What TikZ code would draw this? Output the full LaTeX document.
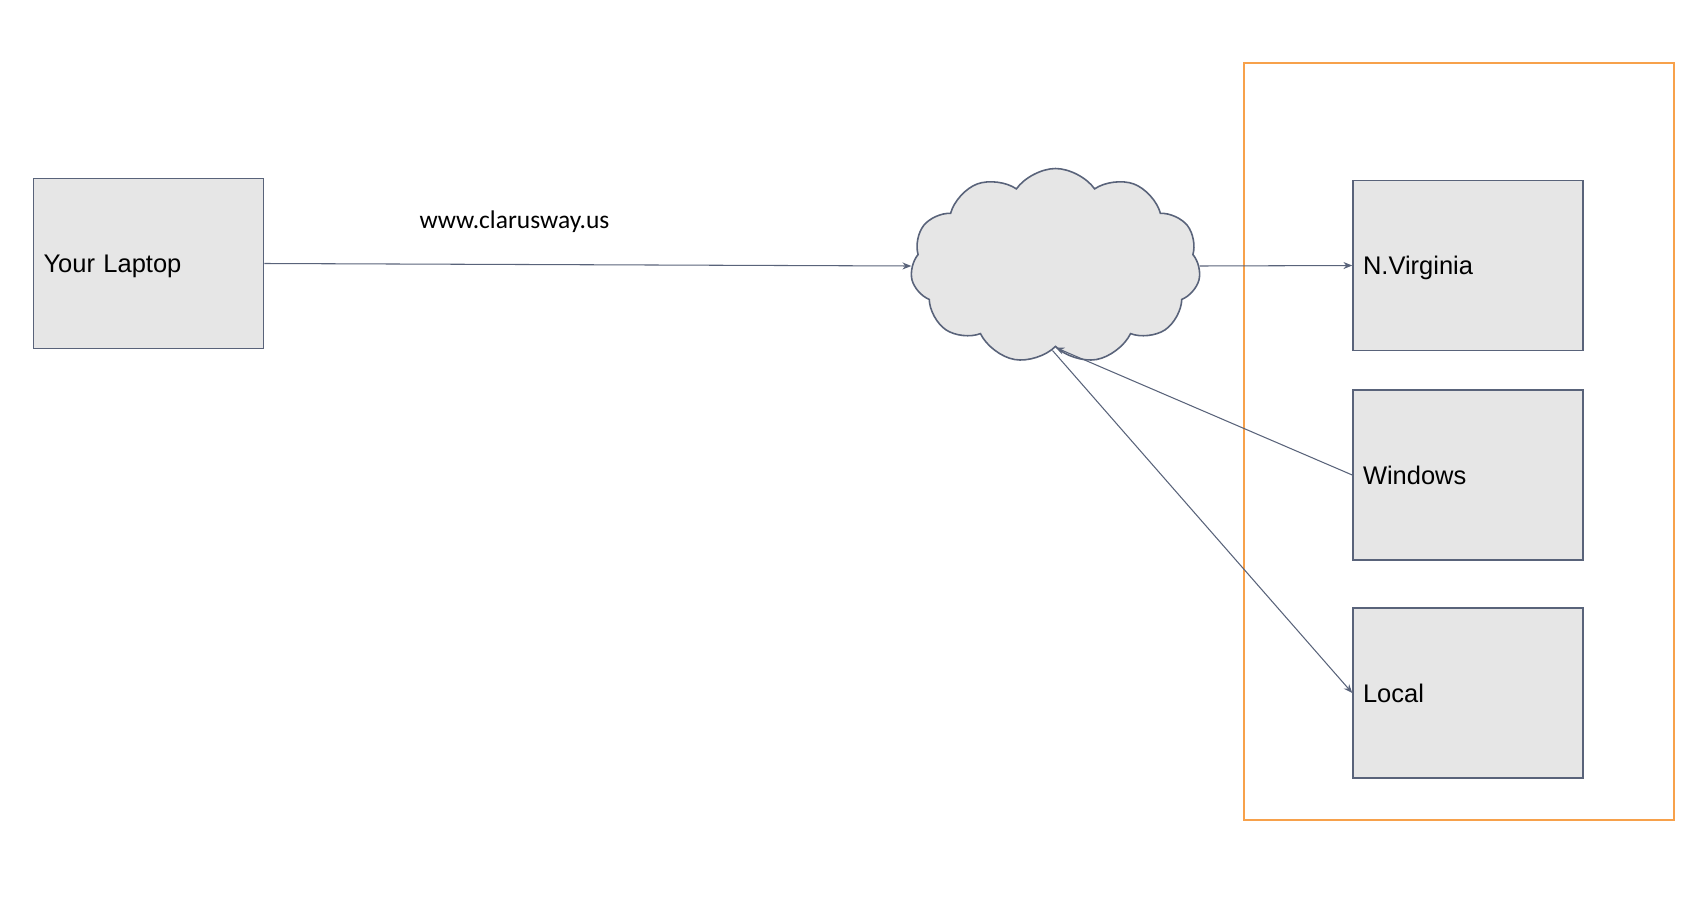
\documentclass[tikz,border=0pt]{standalone}
\usepackage{fontspec}
\setmainfont{Liberation Sans}
\newfontfamily\urlfont{Carlito}
\usetikzlibrary{shapes.symbols,arrows.meta}

\definecolor{boxfill}{HTML}{E6E6E6}
\definecolor{boxline}{HTML}{59637A}
\definecolor{zoneline}{HTML}{F7A14B}

\begin{document}
\begin{tikzpicture}[x=0.02cm, y=-0.02cm,
    >={Stealth[length=5pt,width=4pt]},
    hostbox/.style={draw=boxline, fill=boxfill, line width=0.9pt,
      minimum width=4.6cm, minimum height=3.4cm,
      text width=4.2cm, text height=10.4pt, text depth=0pt,
      align=left, font=\fontsize{14.5}{17}\selectfont},
    link/.style={draw=boxline, line width=0.6pt, ->}]
    \useasboundingbox (0,0) rectangle (1698,916);

    % region frame
    \node [draw=zoneline, line width=0.9pt, minimum width=8.6cm,
           minimum height=15.14cm, inner sep=0pt] (zone) at (1459,441.5) {};

    % left: your laptop
    \node [hostbox] (laptop) at (148.5,263.5) {Your Laptop};

    % internet cloud
    \node [cloud, cloud puffs=11, cloud puff arc=110, aspect=1.5,
           draw=boxline, fill=boxfill, line width=0.9pt,
           minimum width=5.8cm, minimum height=3.9cm] (web) at (1055.5,266) {};

    % right: targets
    \node [hostbox] (virginia) at (1468,265.5) {N.Virginia};
    \node [hostbox] (windows)  at (1468,475)   {Windows};
    \node [hostbox] (local)    at (1468,693)   {Local};

    % url label
    \node [font=\urlfont\fontsize{14.5}{17}\selectfont] (url) at (514.5,222) {www.clarusway.us};

    % connections
    \draw[link] (laptop.east) -- (web.west);
    \draw[link] (web.east) -- (virginia.west);
    \draw[link] (windows.west) -- (web.south);
    \draw[link] (web.south) ++(-3,3) coordinate (cs) (cs) -- (local.west);
\end{tikzpicture}
\end{document}
